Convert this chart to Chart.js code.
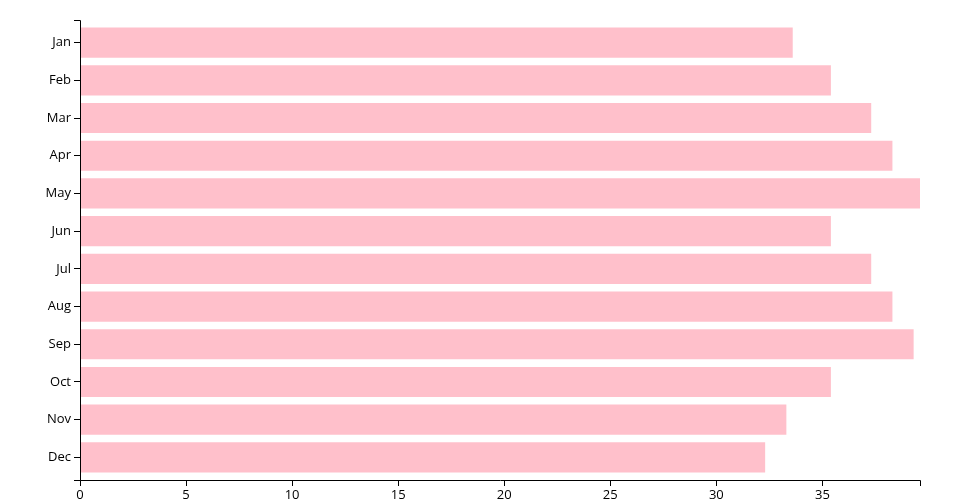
<!DOCTYPE html>
<html>
<head>
<meta charset="utf-8">
<script src="https://cdn.jsdelivr.net/npm/chart.js@4"></script>
<style>
  body { margin: 0; background: #fff; }
  canvas { display: block; }
</style>
</head>
<body>
<canvas id="grafico" width="960" height="500"></canvas>
<script>
const mesi = ["Jan", "Feb", "Mar", "Apr", "May", "Jun", "Jul", "Aug", "Sep", "Oct", "Nov", "Dec"];
const valori = [33.6, 35.4, 37.3, 38.3, 39.6, 35.4, 37.3, 38.3, 39.3, 35.4, 33.3, 32.3];
const tickValori = [0, 5, 10, 15, 20, 25, 30, 35];

// band step like d3.scaleBand().padding(0.2) over 20..480
const step = 460 / 12.2;
const areaTop = 20 + 0.1 * step;
const areaBottom = areaTop + 12 * step;

// axis domain lines drawn at 20..480 like d3
const assi = {
  id: "assi",
  afterDraw(chart) {
    const ctx = chart.ctx;
    const x = chart.scales.x;
    ctx.save();
    ctx.strokeStyle = "#000";
    ctx.lineWidth = 1;
    ctx.beginPath();
    ctx.moveTo(74, 20.5);
    ctx.lineTo(80.5, 20.5);
    ctx.lineTo(80.5, 480.5);
    ctx.lineTo(74, 480.5);
    ctx.moveTo(80.5, 486);
    ctx.lineTo(80.5, 480.5);
    ctx.lineTo(x.right + 0.5, 480.5);
    ctx.lineTo(x.right + 0.5, 486);
    tickValori.forEach(v => {
      const px = Math.round(x.getPixelForValue(v)) + 0.5;
      ctx.moveTo(px, 480.5);
      ctx.lineTo(px, 486);
    });
    ctx.stroke();
    ctx.restore();
  }
};

const ctx = document.getElementById("grafico").getContext("2d");
new Chart(ctx, {
  type: "bar",
  data: {
    labels: mesi,
    datasets: [{
      data: valori,
      backgroundColor: "pink",
      borderWidth: 0,
      barPercentage: 0.8,
      categoryPercentage: 1.0
    }]
  },
  options: {
    indexAxis: "y",
    responsive: false,
    animation: false,
    layout: { padding: { top: areaTop, right: 40, left: 0, bottom: 0 } },
    plugins: { legend: { display: false }, tooltip: { enabled: false } },
    scales: {
      x: {
        min: 0,
        max: Math.max(...valori),
        grid: { display: false },
        border: { display: false },
        afterBuildTicks: s => { s.ticks = tickValori.map(v => ({ value: v })); },
        afterFit: s => { s.height = 500 - areaBottom; },
        ticks: {
          autoSkip: false,
          maxRotation: 0,
          padding: 3,
          color: "#000",
          font: { family: "'Open Sans'", size: 13 }
        }
      },
      y: {
        grid: { offset: false, drawOnChartArea: false, drawTicks: true, tickLength: 6, color: "#000" },
        border: { display: false },
        afterFit: s => { s.width = 80; },
        ticks: {
          padding: 3,
          color: "#000",
          font: { family: "'Open Sans'", size: 13 }
        }
      }
    }
  },
  plugins: [assi]
});
</script>
</body>
</html>
